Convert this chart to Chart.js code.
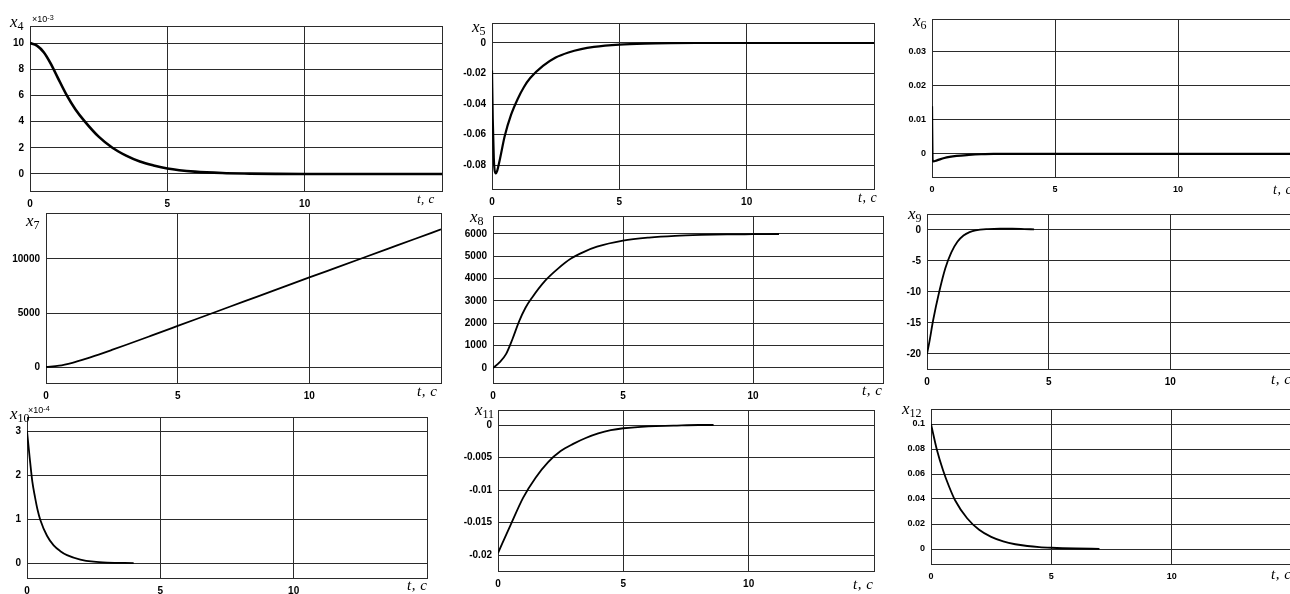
<!DOCTYPE html>
<html><head><meta charset="utf-8">
<script src="https://cdn.jsdelivr.net/npm/chart.js@4.4.1/dist/chart.umd.min.js"></script>
<style>
html,body{margin:0;padding:0;width:1290px;height:594px;overflow:hidden;background:#fff;position:relative;}
canvas{position:absolute;}
.lab{position:absolute;white-space:nowrap;line-height:1;font-family:'Liberation Serif','DejaVu Serif',serif;color:#000;}
.var{font-style:italic;}
.sub{position:relative;font-style:normal;}
.mult{position:absolute;white-space:nowrap;line-height:1;font-family:'Liberation Sans',Arial,sans-serif;color:#000;}
.mult sup{font-size:0.8em;position:relative;top:-1px;vertical-align:top;}
</style></head><body>
<script>
// ---- data ----
const t4  = [0,0.25,0.5,0.75,1,1.34,1.65,2,2.5,3,3.5,4,4.5,5,6,7,8,9,10,12,15];
const x4  = [10,9.8,9.3,8.45,7.4,6.0,4.95,4.0,2.85,2.0,1.4,0.95,0.65,0.42,0.18,0.07,0.03,0.01,0,0,0];

const t5  = [0,0.03,0.07,0.1,0.15,0.2,0.3,0.5,0.75,1,1.25,1.5,2,2.5,3,3.5,4,5,6,7,8,15];
const x5  = [-0.018,-0.05,-0.075,-0.083,-0.0855,-0.084,-0.077,-0.061,-0.047,-0.037,-0.029,-0.023,-0.015,-0.0095,-0.0062,-0.004,-0.0026,-0.0011,-0.0004,-0.0001,0,0];

const t6  = [0,0.02,0.05,0.2,0.5,1,1.5,2,2.5,15];
const x6  = [0.014,-0.0015,-0.0022,-0.0019,-0.0012,-0.0006,-0.0003,-0.0001,0,0];

const t7  = [0,0.5,1,1.5,2,2.5,3,4,5,6,7,8,9,10,11,12,13,14,15];
const x7  = [0,118,392,750,1152,1577,2012,2902,3800,4700,5600,6490,7390,8290,9180,10070,10960,11850,12750];

const t8  = [0,0.25,0.5,0.75,1,1.25,1.5,2,2.5,3,3.5,4,5,6,7,8,9,10,11];
const x8  = [0,250,620,1300,2080,2700,3150,3900,4450,4900,5200,5430,5700,5840,5920,5960,5980,5990,6000];

const t9  = [0,0.1,0.25,0.5,0.75,1,1.25,1.5,1.75,2,2.5,3,3.5,4,4.4];
const x9  = [-20,-18,-14.6,-10,-6.2,-3.6,-1.9,-0.9,-0.35,-0.05,0.15,0.2,0.2,0.15,0.1];

const t10 = [0,0.1,0.2,0.3,0.4,0.5,0.75,1,1.25,1.5,2,2.5,3,4];
const x10 = [3,2.4,1.85,1.5,1.2,0.98,0.62,0.4,0.27,0.18,0.08,0.03,0.01,0];

const t11 = [0,0.5,1,1.5,2,2.5,3,3.5,4,4.5,5,6,7,8,8.6];
const x11 = [-0.0197,-0.0154,-0.0112,-0.0081,-0.0057,-0.004,-0.0029,-0.002,-0.0013,-0.0008,-0.0005,-0.0002,-0.0001,0,0];

const t12 = [0,0.25,0.5,0.75,1,1.5,2,2.5,3,3.5,4,4.5,5,6,7];
const x12 = [0.1,0.079,0.063,0.05,0.039,0.0246,0.0154,0.0097,0.0061,0.0038,0.0024,0.0015,0.001,0.0004,0.0001];

// ---- tick labels ----
const timeTicks = [0,5,10,15];
const timeLabel = 't, c';
const yt4  = [0,2,4,6,8,10];
const yt5  = [-0.08,-0.06,-0.04,-0.02,0];
const yt6  = [0,0.01,0.02,0.03];
const yt7  = [0,5000,10000];
const yt8  = [0,1000,2000,3000,4000,5000,6000];
const yt9  = [-20,-15,-10,-5,0];
const yt10 = [0,1,2,3];
const yt11 = [-0.02,-0.015,-0.01,-0.005,0];
const yt12 = [0,0.02,0.04,0.06,0.08,0.1];
const subNames = ['4','5','6','7','8','9','10','11','12'];

// ---- layout ----
const GRID = '#2b2b2b';
const panels = [
  {t:t4,  y:x4,  yt:yt4,  box:[30,26,442,191],   ymin:-1.3,    ymax:11.3,   lw:2.6, fs:10, name:[10,27],   tl:[417,203,13], mult:[32,23,'-3']},
  {t:t5,  y:x5,  yt:yt5,  box:[492,23,874,189],  ymin:-0.0957, ymax:0.0131, lw:2.2, fs:10, name:[472,32],  tl:[858,203,14]},
  {t:t6,  y:x6,  yt:yt6,  box:[932,19,1301,177], ymin:-0.0068, ymax:0.0397, lw:2.2, fs:9,  name:[913,26],  tl:[1273,195,14]},
  {t:t7,  y:x7,  yt:yt7,  box:[46,213,441,383],  ymin:-1481,   ymax:14259,  lw:1.8, fs:10, name:[26,226],  tl:[417,397,15]},
  {t:t8,  y:x8,  yt:yt8,  box:[493,216,883,383], ymin:-672,    ymax:6806,   lw:1.8, fs:10, name:[470,222], tl:[862,396,15]},
  {t:t9,  y:x9,  yt:yt9,  box:[927,214,1292,369],ymin:-22.42,  ymax:2.58,   lw:1.8, fs:10, name:[908,219], tl:[1271,385,15]},
  {t:t10, y:x10, yt:yt10, box:[27,417,427,578],  ymin:-0.34,   ymax:3.32,   lw:1.8, fs:10, name:[10,419],  tl:[407,591,15], mult:[28,414,'-4']},
  {t:t11, y:x11, yt:yt11, box:[498,410,874,571], ymin:-0.02246,ymax:0.00231,lw:1.8, fs:10, name:[475,415], tl:[853,590,15]},
  {t:t12, y:x12, yt:yt12, box:[931,409,1292,564],ymin:-0.012,  ymax:0.112,  lw:1.8, fs:9,  name:[902,414], tl:[1271,580,15]}
];

const fmt = v => String(Math.round(v * 1e6) / 1e6);

const boxPlugin = {
  id: 'box',
  beforeDatasetsDraw(chart) {
    const {ctx, chartArea: a} = chart;
    ctx.save();
    ctx.strokeStyle = GRID; ctx.lineWidth = 1;
    ctx.strokeRect(Math.round(a.left) + 0.5, Math.round(a.top) + 0.5, Math.round(a.right - a.left), Math.round(a.bottom - a.top));
    ctx.restore();
  }
};

function addLabel(html, left, base, fs, cls) {
  const d = document.createElement('div');
  d.className = cls || 'lab';
  d.style.left = left + 'px';
  d.style.top = (base - 0.84 * fs) + 'px';
  d.style.fontSize = fs + 'px';
  d.innerHTML = html;
  document.body.appendChild(d);
}

const YW = 50, XH = 20, PT = 6, PR = 6;
panels.forEach((p, i) => {
  const [L, T, R, B] = p.box;
  const w = R - L + YW + PR, h = B - T + PT + XH;
  const c = document.createElement('canvas');
  c.width = w; c.height = h;
  c.style.left = (L - YW) + 'px'; c.style.top = (T - PT) + 'px';
  c.style.width = w + 'px'; c.style.height = h + 'px';
  document.body.appendChild(c);
  const tickFont = {family: "'Liberation Sans', Arial, sans-serif", size: p.fs, weight: 'bold'};
  new Chart(c, {
    type: 'scatter',
    data: {datasets: [{
      data: p.t.map((tt, k) => ({x: tt, y: p.y[k]})),
      showLine: true, borderColor: '#000', borderWidth: p.lw, pointRadius: 0,
      cubicInterpolationMode: 'monotone', fill: false
    }]},
    options: {
      responsive: false, animation: false, devicePixelRatio: 1,
      layout: {padding: {left: 0, top: PT, right: PR, bottom: 0}},
      plugins: {legend: {display: false}, tooltip: {enabled: false}},
      scales: {
        x: {
          type: 'linear', min: timeTicks[0], max: timeTicks[timeTicks.length - 1],
          border: {display: false},
          grid: {color: GRID, lineWidth: 1, drawTicks: false},
          afterBuildTicks: s => { s.ticks = timeTicks.map(v => ({value: v})); },
          ticks: {padding: 7, maxRotation: 0, autoSkip: false, color: '#000', font: tickFont,
                  callback: v => v === 15 ? '' : String(v)},
          afterFit: s => { s.height = XH; s.paddingLeft = 0; s.paddingRight = 0; }
        },
        y: {
          type: 'linear', min: p.ymin, max: p.ymax,
          border: {display: false},
          grid: {color: GRID, lineWidth: 1, drawTicks: false},
          afterBuildTicks: s => { s.ticks = p.yt.map(v => ({value: v})); },
          ticks: {padding: 6, color: '#000', font: tickFont, autoSkip: false, callback: v => fmt(v)},
          afterFit: s => { s.width = YW; s.paddingTop = 0; s.paddingBottom = 0; }
        }
      }
    },
    plugins: [boxPlugin]
  });
  addLabel('<span class="var">x</span><span class="sub" style="font-size:12px;top:3px">' + subNames[i] + '</span>',
           p.name[0], p.name[1], 17);
  addLabel('<span class="var" style="letter-spacing:0.5px">' + timeLabel + '</span>', p.tl[0], p.tl[1], p.tl[2]);
  if (p.mult) addLabel('\u00d710<sup>' + p.mult[2] + '</sup>', p.mult[0], p.mult[1], 9, 'mult');
});
</script>
</body></html>
